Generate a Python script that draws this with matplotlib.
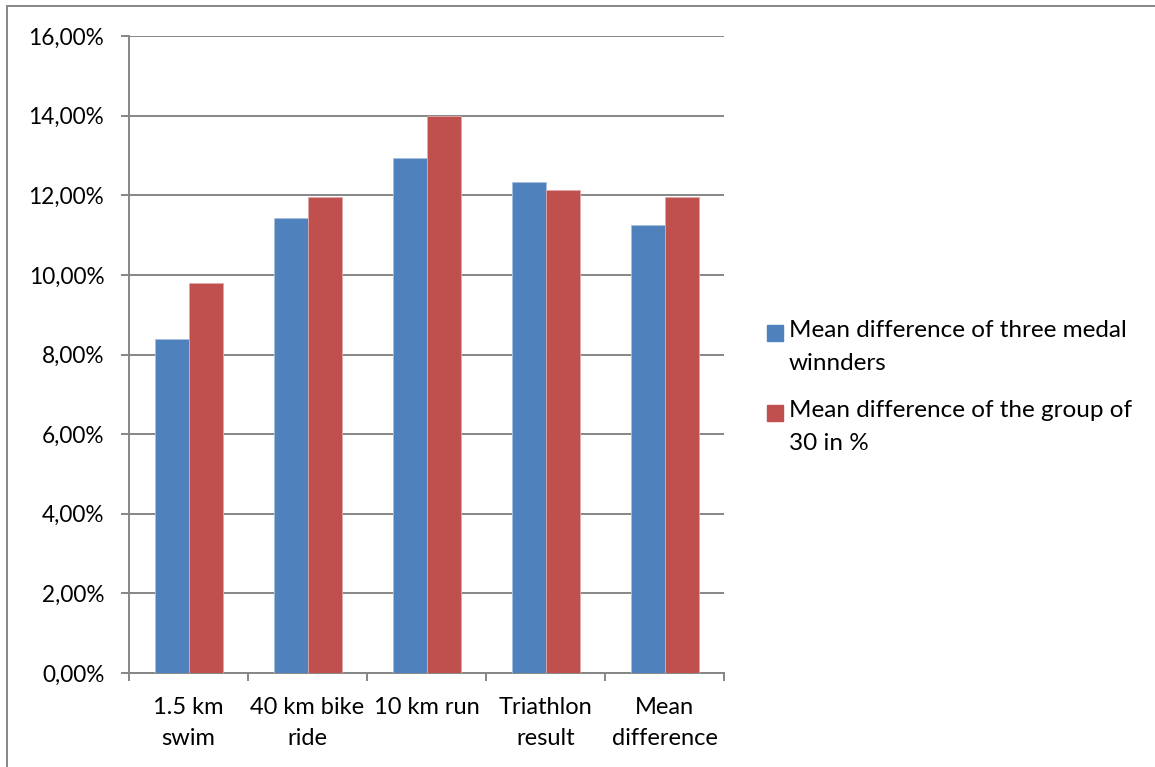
import matplotlib
matplotlib.use('Agg')
import matplotlib.pyplot as plt
from matplotlib.patches import Rectangle
from matplotlib.ticker import FuncFormatter, MultipleLocator
import numpy as np

categories = ['1.5 km\nswim', '40 km bike\nride', '10 km run', 'Triathlon\nresult', 'Mean\ndifference']
medal_winners = [8.38, 11.42, 12.94, 12.33, 11.25]
group_of_30 = [9.79, 11.96, 13.98, 12.13, 11.96]
series_names = ['Mean difference of three medal\nwinnders', 'Mean difference of the group of\n30 in %']
colors = ['#4F81BD', '#C0504D']

plt.rcParams['font.family'] = ['Lato', 'DejaVu Sans']

W, H = 1155, 767
fig = plt.figure(figsize=(W / 100, H / 100), dpi=100)
ax = fig.add_axes([129 / W, 1 - 673 / H, 595 / W, 637 / H])

x = np.arange(len(categories))
w = 1 / 3.5  # excel gap width 150%
ax.bar(x - w / 2, medal_winners, w, color=colors[0], edgecolor='#A7C0DE', linewidth=0.6, zorder=3)
ax.bar(x + w / 2, group_of_30, w, color=colors[1], edgecolor='#E0A9A8', linewidth=0.6, zorder=3)

ax.set_xlim(-0.5, len(categories) - 0.5)
ax.set_ylim(0, 16)
ax.yaxis.set_major_locator(MultipleLocator(2))
ax.yaxis.set_major_formatter(FuncFormatter(lambda v, p: f'{v:.2f}%'.replace('.', ',')))
ax.grid(axis='y', color='#868686', linewidth=1.4, zorder=0)

for s in ['top', 'right']:
    ax.spines[s].set_visible(False)
for s in ['left', 'bottom']:
    ax.spines[s].set_color('#868686')
    ax.spines[s].set_linewidth(1.4)

ax.set_xticks(np.arange(len(categories) + 1) - 0.5)
ax.set_xticklabels([])
ax.tick_params(axis='x', length=5.8, width=1.4, color='#868686', direction='out')
ax.tick_params(axis='y', length=5.8, width=1.4, color='#868686', labelsize=16.3, pad=12)

for i, c in enumerate(categories):
    ax.text(i, (673 - 697) / 637, c, ha='center', va='top', fontsize=17, linespacing=1.6,
            transform=ax.get_xaxis_transform(), clip_on=False)

# legend drawn by hand so the marker sits on the first line
leg_top = [325, 405]
for name, col, yy in zip(series_names, colors, leg_top):
    fig.patches.append(Rectangle((767 / W, 1 - (yy + 16) / H), 16 / W, 16 / H,
                                 transform=fig.transFigure, color=col))
    fig.text(789 / W, 1 - (yy - 5) / H, name, ha='left', va='top', fontsize=17.5, linespacing=1.68)

# chart frame, only its left and top edges fall inside the picture
fig.patches.append(Rectangle((7 / W, -0.05), 1.2, 1 - 6 / H + 0.05, transform=fig.transFigure,
                             fill=False, edgecolor='#868686', linewidth=1.4))

fig.savefig('out.png', dpi=100)
